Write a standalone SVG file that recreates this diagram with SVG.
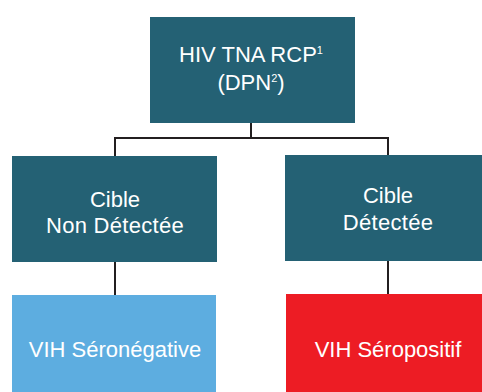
<svg xmlns="http://www.w3.org/2000/svg" width="482" height="392" viewBox="0 0 482 392">
  <style>
    .teal { fill: #246174; }
    .neg { fill: #5dade0; }
    .pos { fill: #ed1c24; }
    .lbl { font-family: "Liberation Sans", Arial, sans-serif; font-size: 22px; fill: #ffffff; text-anchor: middle; }
    .sup { font-size: 11px; }
    .wire { fill: none; stroke: #231f20; stroke-width: 2; }
  </style>
  <rect width="482" height="392" fill="#ffffff"/>

  <!-- connectors -->
  <g id="connectors">
    <path class="wire" d="M251 123 V138 M115 156 V138 H388 V155"/>
    <path class="wire" d="M115 262 V295"/>
    <path class="wire" d="M388 261 V294"/>
  </g>

  <!-- root test -->
  <g id="node-test">
    <rect class="teal" x="150" y="17" width="205" height="106"/>
    <text class="lbl" x="251" y="62">HIV TNA RCP<tspan class="sup" dy="-8">1</tspan></text>
    <text class="lbl" x="251" y="90">(DPN<tspan class="sup" dy="-8">2</tspan><tspan dy="8">)</tspan></text>
  </g>

  <!-- target not detected -->
  <g id="node-not-detected">
    <rect class="teal" x="12" y="156" width="205" height="106"/>
    <text class="lbl" x="115" y="207">Cible</text>
    <text class="lbl" x="115" y="233" letter-spacing="0.3">Non Détectée</text>
  </g>

  <!-- target detected -->
  <g id="node-detected">
    <rect class="teal" x="285" y="155" width="197" height="106"/>
    <text class="lbl" x="388" y="203">Cible</text>
    <text class="lbl" x="388" y="230" letter-spacing="0.3">Détectée</text>
  </g>

  <!-- results -->
  <g id="node-seronegative">
    <rect class="neg" x="12" y="295" width="204" height="97"/>
    <text class="lbl" x="115" y="357">VIH Séronégative</text>
  </g>
  <g id="node-seropositive">
    <rect class="pos" x="286" y="294" width="196" height="98"/>
    <text class="lbl" x="388" y="357">VIH Séropositif</text>
  </g>
</svg>
